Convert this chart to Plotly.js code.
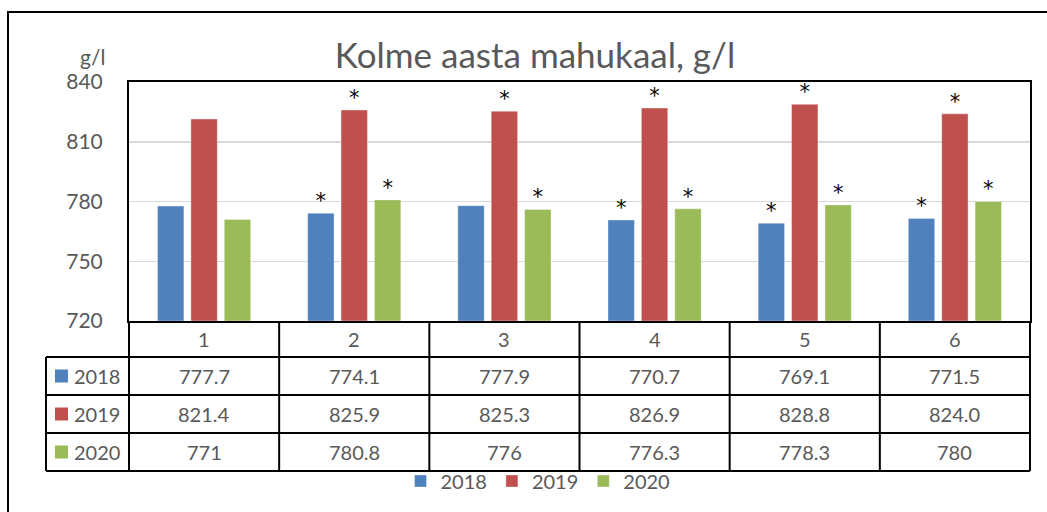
<!DOCTYPE html>
<html>
<head>
<meta charset="utf-8">
<script src="https://cdn.plot.ly/plotly-3.0.1.min.js"></script>
<style>html,body{margin:0;padding:0;background:#fff;}#chart{width:1047px;height:512px;}</style>
</head>
<body>
<div id="chart"></div>
<script>
const categories = ['1', '2', '3', '4', '5', '6'];
const seriesNames = ['2018', '2019', '2020'];
const values2018 = [777.7, 774.1, 777.9, 770.7, 769.1, 771.5];
const values2019 = [821.4, 825.9, 825.3, 826.9, 828.8, 824.0];
const values2020 = [771, 780.8, 776, 776.3, 778.3, 780];
const labels2018 = ['777.7', '774.1', '777.9', '770.7', '769.1', '771.5'];
const labels2019 = ['821.4', '825.9', '825.3', '826.9', '828.8', '824.0'];
const labels2020 = ['771', '780.8', '776', '776.3', '778.3', '780'];
const marks2018 = ['', '*', '', '*', '*', '*'];
const marks2019 = ['', '*', '*', '*', '*', '*'];
const marks2020 = ['', '*', '*', '*', '*', '*'];
const yTicks = [720, 750, 780, 810, 840];

const colors = ['#4F81BD', '#C0504D', '#9BBB59'];
const FONT = 'Lato, "Open Sans", sans-serif';
const GREY = '#595959';

const allValues = [values2018, values2019, values2020];
const allLabels = [labels2018, labels2019, labels2020];
const allMarks = [marks2018, marks2019, marks2020];

const traces = seriesNames.map((n, i) => ({
  type: 'bar', name: n, x: categories, y: allValues[i].map(v => v - 720), base: 720,
  marker: {color: colors[i], line: {color: 'rgba(255,255,255,0.35)', width: 1}},
  hoverinfo: 'skip'
}));
seriesNames.forEach((n, i) => traces.push({
  type: 'scatter', mode: 'text', name: n + ' *', showlegend: false,
  x: categories, y: allValues[i], text: allMarks[i], textposition: 'top center', cliponaxis: false,
  textfont: {family: '"DejaVu Sans", sans-serif', size: 21, color: '#000'},
  hoverinfo: 'skip'
}));

// layout geometry (pixels -> paper)
const L = 129, R = 1030, T = 82, B = 321;
const pw = R - L, ph = B - T;
const px = x => (x - L) / pw;
const py = y => (B - y) / ph;

const rowLines = [357, 395, 433, 471];
const shapes = [];
const ann = [];
const blk = {color: '#000', width: 2};
// outer frame
shapes.push({type: 'rect', xref: 'paper', yref: 'paper', x0: px(8), x1: px(1060), y0: py(530), y1: py(12), line: {color: '#000', width: 2}});
// vertical table lines
for (let i = 0; i <= categories.length; i++) {
  const xx = i / categories.length;
  shapes.push({type: 'line', xref: 'paper', yref: 'paper', x0: xx, x1: xx, y0: 0, y1: py(rowLines[3]), line: blk});
}
shapes.push({type: 'line', xref: 'paper', yref: 'paper', x0: px(46), x1: px(46), y0: py(rowLines[0]), y1: py(rowLines[3]), line: blk});
rowLines.forEach(r => shapes.push({type: 'line', xref: 'paper', yref: 'paper', x0: px(46), x1: 1, y0: py(r), y1: py(r), line: blk}));

const cellFont = {family: FONT, size: 20, color: GREY};
// header labels
categories.forEach((c, k) => ann.push({xref: 'x', yref: 'paper', x: k, y: py(339), xanchor: 'center', yanchor: 'middle', text: c, showarrow: false, font: cellFont}));
// rows
const rowCenters = [376, 414, 452];
seriesNames.forEach((n, s) => {
  const yc = py(rowCenters[s]);
  shapes.push({type: 'rect', xref: 'paper', yref: 'paper', x0: px(55), x1: px(68), y0: yc - 6.5 / ph, y1: yc + 6.5 / ph, fillcolor: colors[s], line: {width: 0}});
  ann.push({xref: 'paper', yref: 'paper', x: px(72), y: yc, xanchor: 'left', yanchor: 'middle', text: n, showarrow: false, font: cellFont});
  categories.forEach((c, k) => ann.push({xref: 'x', yref: 'paper', x: k, y: yc, xanchor: 'center', yanchor: 'middle', text: allLabels[s][k], showarrow: false, font: cellFont}));
});
// y unit label
ann.push({xref: 'paper', yref: 'paper', x: px(107), y: py(56), xanchor: 'right', yanchor: 'middle', text: 'g/l', showarrow: false, font: {family: FONT, size: 21, color: GREY}});

const layout = {
  width: 1047, height: 512,
  margin: {l: L, r: 1047 - R, t: T, b: 512 - B},
  paper_bgcolor: '#fff', plot_bgcolor: '#fff',
  title: {text: 'Kolme aasta mahukaal, g/l', x: 535 / 1047, xanchor: 'center', y: 1 - 56 / 512, yanchor: 'middle', font: {family: FONT, size: 35, color: GREY}},
  barmode: 'group', bargap: 0.333, bargroupgap: 0.21,
  scattermode: 'group', scattergap: 0.333,
  showlegend: true,
  legend: {orientation: 'h', x: px(538), xanchor: 'center', y: py(481), yanchor: 'middle', bgcolor: 'rgba(0,0,0,0)', font: {family: FONT, size: 20, color: GREY}, itemwidth: 30, traceorder: 'normal'},
  xaxis: {type: 'category', range: [-0.5, 5.5], showticklabels: false, ticks: '', showgrid: false, showline: true, mirror: true, linecolor: '#000', linewidth: 2, zeroline: false, fixedrange: true},
  yaxis: {range: [720, 840], tickvals: yTicks, ticktext: yTicks.map(String), showgrid: true, gridcolor: '#D9D9D9', gridwidth: 1.5, showline: true, mirror: true, linecolor: '#000', linewidth: 2, zeroline: false, ticks: '', ticklabelstandoff: 20, tickfont: {family: FONT, size: 21, color: GREY}, fixedrange: true},
  shapes: shapes, annotations: ann
};

Plotly.newPlot('chart', traces, layout, {displayModeBar: false, staticPlot: true});
</script>
</body>
</html>
